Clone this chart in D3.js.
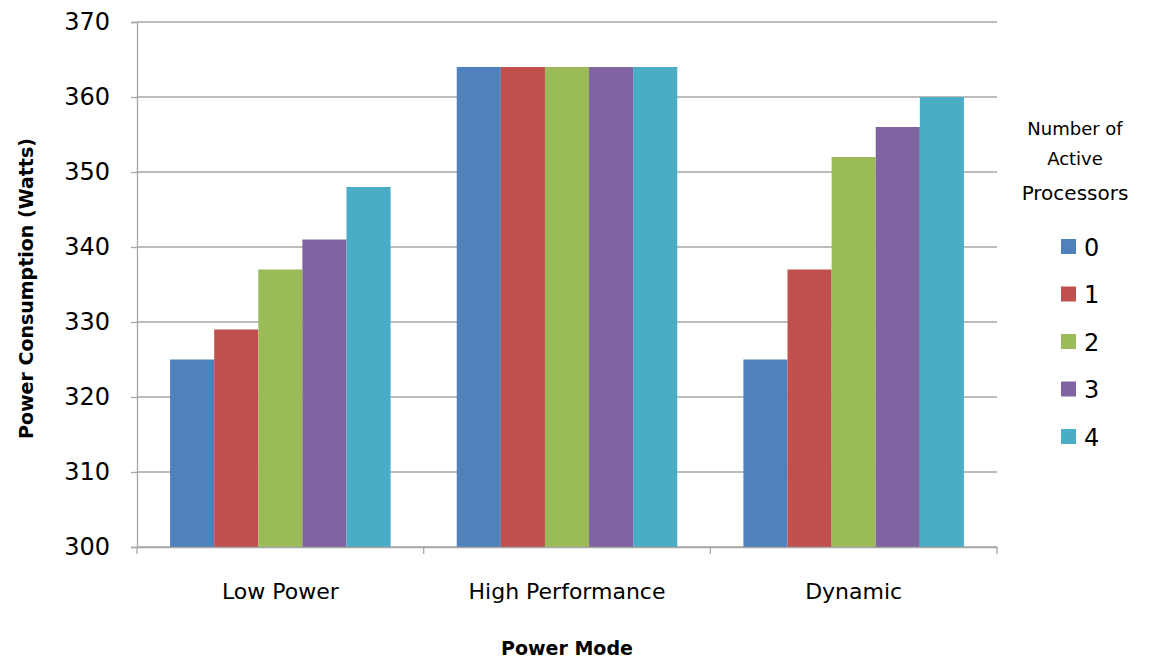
<!DOCTYPE html>
<html>
<head>
<meta charset="utf-8">
<script src="https://cdn.jsdelivr.net/npm/d3@7"></script>
<style>
  body { margin: 0; background: #fff; }
  text { font-family: "DejaVu Sans", sans-serif; fill: #000; }
</style>
</head>
<body>
<div id="chart"></div>
<script>
// data
const modes = ["Low Power", "High Performance", "Dynamic"];
const processors = ["0", "1", "2", "3", "4"];
const lowPower = [325, 329, 337, 341, 348];
const highPerformance = [364, 364, 364, 364, 364];
const dynamic = [325, 337, 352, 356, 360];
const yTicks = [300, 310, 320, 330, 340, 350, 360, 370];
const colors = ["#4F81BD", "#C0504D", "#9BBB59", "#8064A2", "#4BACC6"];

const seriesByMode = [lowPower, highPerformance, dynamic];

const width = 1150, height = 661;
const margin = { top: 22, right: 153, bottom: 114, left: 137 };
const innerW = width - margin.left - margin.right;
const innerH = height - margin.top - margin.bottom;

const svg = d3.select("#chart")
    .append("svg")
    .attr("width", width)
    .attr("height", height);

const g = svg.append("g")
    .attr("transform", `translate(${margin.left},${margin.top})`);

// scales
const x0 = d3.scaleBand().domain(modes).range([0, innerW]).padding(0);
const bw = x0.bandwidth();
const barW = bw / 6.5;   // gap width 150%
const x1 = d3.scaleBand().domain(processors)
    .range([barW * 0.75, bw - barW * 0.75]).padding(0);
const y = d3.scaleLinear().domain([300, 370]).range([innerH, 0]);

// gridlines
g.selectAll(".grid")
    .data(yTicks)
    .enter().append("line")
    .attr("x1", 0).attr("x2", innerW)
    .attr("y1", d => y(d)).attr("y2", d => y(d))
    .attr("stroke", "#a6a6a6")
    .attr("stroke-width", 1.3);

// bars
const groups = g.selectAll(".grp")
    .data(modes)
    .enter().append("g")
    .attr("transform", d => `translate(${x0(d)},0)`);

groups.selectAll("rect")
    .data((m, i) => seriesByMode[i].map((v, j) => ({ key: processors[j], v: v, c: colors[j] })))
    .enter().append("rect")
    .attr("x", d => x1(d.key))
    .attr("y", d => y(d.v))
    .attr("width", x1.bandwidth())
    .attr("height", d => innerH - y(d.v))
    .attr("fill", d => d.c);

// Y axis
const yAxis = g.append("g")
    .call(d3.axisLeft(y).tickValues(yTicks).tickSize(6).tickPadding(21).tickFormat(d3.format("d")));
yAxis.select(".domain").attr("stroke", "#a6a6a6").attr("stroke-width", 1.3);
yAxis.selectAll(".tick line").attr("stroke", "#a6a6a6").attr("stroke-width", 1.3);
yAxis.selectAll("text").style("font-size", "24px").style("font-family", "'DejaVu Sans', sans-serif").attr("fill", "#000");

// X axis
const xAxis = g.append("g")
    .attr("transform", `translate(0,${innerH})`)
    .call(d3.axisBottom(x0).tickSize(0).tickPadding(36));
xAxis.select(".domain").attr("stroke", "#a6a6a6").attr("stroke-width", 1.3);
xAxis.selectAll("text").style("font-size", "22px").style("font-family", "'DejaVu Sans', sans-serif").attr("fill", "#000");

// category boundary ticks
const bounds = [0, ...modes.map(m => x0(m) + bw)];
g.selectAll(".xtick")
    .data(bounds)
    .enter().append("line")
    .attr("x1", d => d).attr("x2", d => d)
    .attr("y1", innerH).attr("y2", innerH + 7)
    .attr("stroke", "#a6a6a6")
    .attr("stroke-width", 1.3);

// axis titles
svg.append("text")
    .attr("transform", `translate(33,${margin.top + innerH / 2 + 4}) rotate(-90)`)
    .attr("text-anchor", "middle")
    .style("font-size", "19px")
    .style("font-weight", "bold")
    .text("Power Consumption (Watts)");

svg.append("text")
    .attr("x", 567)
    .attr("y", 655)
    .attr("text-anchor", "middle")
    .style("font-size", "19px")
    .style("font-weight", "bold")
    .text("Power Mode");

// legend
const lx = 1075;
svg.append("text").attr("x", lx).attr("y", 135).attr("text-anchor", "middle")
    .style("font-size", "18px").text("Number of");
svg.append("text").attr("x", lx).attr("y", 165).attr("text-anchor", "middle")
    .style("font-size", "18px").text("Active");
svg.append("text").attr("x", lx).attr("y", 200).attr("text-anchor", "middle")
    .style("font-size", "20px").text("Processors");

const legend = svg.selectAll(".leg")
    .data(processors)
    .enter().append("g")
    .attr("transform", (d, i) => `translate(1061,${247 + i * 47.5})`);

legend.append("rect")
    .attr("x", 0).attr("y", -8)
    .attr("width", 15).attr("height", 15)
    .attr("fill", (d, i) => colors[i]);

legend.append("text")
    .attr("x", 23).attr("y", 0)
    .attr("dy", "0.36em")
    .style("font-size", "24px")
    .text(d => d);
</script>
</body>
</html>
